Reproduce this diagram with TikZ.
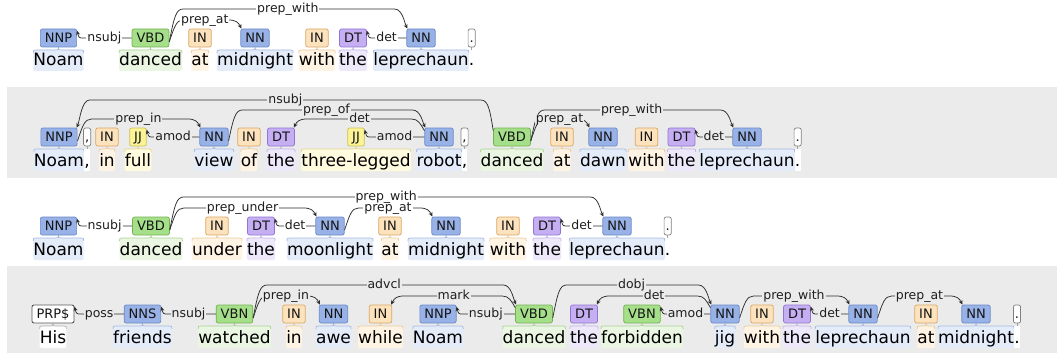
\documentclass[tikz,border=0pt]{standalone}
\usepackage{fontspec}
\newfontfamily\djv{DejaVu Sans}
\usetikzlibrary{calc,arrows.meta}
\pgfdeclarelayer{background}
\pgfdeclarelayer{foreground}
\pgfsetlayers{background,main,foreground}
\definecolor{rowgray}{HTML}{EBEBEB}
\definecolor{linec}{HTML}{2E2E2E}
\definecolor{nnfill}{HTML}{98B1E6}\definecolor{nndraw}{HTML}{6A8AC8}\definecolor{nnhl}{HTML}{E4ECFA}\definecolor{nnbr}{HTML}{A5B9E0}
\definecolor{vbfill}{HTML}{A6DF8A}\definecolor{vbdraw}{HTML}{72B250}\definecolor{vbhl}{HTML}{EAF6E2}\definecolor{vbbr}{HTML}{A9D394}
\definecolor{infill}{HTML}{FDE3BD}\definecolor{indraw}{HTML}{DBA664}\definecolor{inhl}{HTML}{FFF4E4}\definecolor{inbr}{HTML}{EBCB9C}
\definecolor{dtfill}{HTML}{C5AEF2}\definecolor{dtdraw}{HTML}{9076D4}\definecolor{dthl}{HTML}{EEE8FB}\definecolor{dtbr}{HTML}{C4B4E6}
\definecolor{jjfill}{HTML}{FBF496}\definecolor{jjdraw}{HTML}{CDBF55}\definecolor{jjhl}{HTML}{FFFBDF}\definecolor{jjbr}{HTML}{E2D68E}
\tikzset{
  wrd/.style={inner sep=0pt, anchor=base, font={\djv\fontsize{17}{20}\selectfont}, text=black},
  tagbox/.style={draw, rounded corners=2pt, line width=0.7pt, inner xsep=4.5pt, inner ysep=0pt,
    minimum height=18pt, text height=9.4pt, text depth=0pt, font={\djv\fontsize{13}{15}\selectfont}, text=black!92},
  cnn/.style={fill=nnfill, draw=nndraw}, cnn-hl/.style={fill=nnhl}, cnn-br/.style={draw=nnbr, line width=0.7pt},
  cvb/.style={fill=vbfill, draw=vbdraw}, cvb-hl/.style={fill=vbhl}, cvb-br/.style={draw=vbbr, line width=0.7pt},
  cin/.style={fill=infill, draw=indraw}, cin-hl/.style={fill=inhl}, cin-br/.style={draw=inbr, line width=0.7pt},
  cdt/.style={fill=dtfill, draw=dtdraw}, cdt-hl/.style={fill=dthl}, cdt-br/.style={draw=dtbr, line width=0.7pt},
  cjj/.style={fill=jjfill, draw=jjdraw}, cjj-hl/.style={fill=jjhl}, cjj-br/.style={draw=jjbr, line width=0.7pt},
  cprp/.style={fill=white, draw=black!65, line width=0.9pt}, cprp-hl/.style={fill=white}, cprp-br/.style={draw=black!30, line width=0.7pt},
  cpu/.style={fill=white, draw=black!50, inner xsep=1.5pt}, cpu-br/.style={draw=black!35, line width=0.6pt},
  arcline/.style={draw=linec, line width=0.75pt, -{Stealth[length=4.5pt,width=4pt]}},
  arclab/.style={font={\djv\fontsize{12.5}{14}\selectfont}, fill=\rowbg, inner xsep=1pt, inner ysep=0.3pt,
    text height=7pt, text depth=0.3pt, text=black!88},
}
\def\rowbg{white}
% token: name, x, tagY, baseline, word, tag, class
\newcommand\tok[7]{%
  \node[wrd] (#1w) at (#2,#4) {#5};
  \node[tagbox,#7] (#1) at (#2,#3) {#6};
  \coordinate (#1L) at (#1w.west |- 0,#3+12);
  \coordinate (#1R) at (#1w.east |- 0,#3+12);
  \coordinate (#1C) at (#1w.center |- 0,#3+12);
  \begin{pgfonlayer}{background}
    \fill[#7-hl, rounded corners=1.5pt] (#1L) rectangle (#1w.east |- 0,#4+5);
    \draw[#7-br] ($(#1L)+(0,3)$) .. controls (#1L) .. ($(#1L)+(3,0)$) -- ($(#1C)+(-3,0)$)
      .. controls (#1C) .. ($(#1C)+(0,-3)$) .. controls (#1C) .. ($(#1C)+(3,0)$)
      -- ($(#1R)+(-3,0)$) .. controls (#1R) .. ($(#1R)+(0,3)$);
  \end{pgfonlayer}}
% punctuation token: name, previous token, tagY, baseline, word, tag
\newcommand\ptok[6]{%
  \node[wrd, anchor=base west] (#1w) at (#2w.base east) {#5};
  \node[tagbox,cpu] (#1) at (#1w.center |- 0,#3) {#6};
  \begin{pgfonlayer}{background}
    \fill[white] (#1w.west |- 0,#3+12) rectangle (#1w.east |- 0,#4+5);
    \draw[cpu-br] (#1.south) -- ++(0,3);
  \end{pgfonlayer}}
% rightward arc: source, target, height, label
\newcommand\rarc[4]{%
  \coordinate (aS) at (#1.east |- 0,#3);
  \coordinate (aT) at (#2.north west |- 0,#3);
  \draw[arcline] ($(#1.east)+(0,4)$) .. controls ($(aS)+(5,7)$) and ($(aS)+(7,0)$) .. ($(aS)+(14,0)$)
    -- ($(aT)+(-12,0)$) .. controls ($(aT)+(-4,0)$) and ($(#2.north west)+(-2,-6)$) .. ($(#2.north west)+(1,0)$);
  \begin{pgfonlayer}{foreground}\node[arclab] at ($(aS)!0.5!(aT)$) {#4};\end{pgfonlayer}}
% leftward arc: source (right), target (left), height, label
\newcommand\larc[4]{%
  \coordinate (aS) at (#1.west |- 0,#3);
  \coordinate (aT) at (#2.north east |- 0,#3);
  \draw[arcline] ($(#1.north west)+(0,3)$) .. controls ($(aS)+(-4,5)$) and ($(aS)+(-6,0)$) .. ($(aS)+(-13,0)$)
    -- ($(aT)+(12,0)$) .. controls ($(aT)+(4,0)$) and ($(#2.north east)+(2,-6)$) .. ($(#2.north east)+(-1,0)$);
  \begin{pgfonlayer}{foreground}\node[arclab] at ($(aS)!0.5!(aT)$) {#4};\end{pgfonlayer}}
% adjacent leftward arc at tag level: source (right), target (left), label
\newcommand\zarc[3]{%
  \draw[arcline] (#1.west) -- ($(#2.east)+(7,0)$) .. controls ($(#2.east)+(2,0)$) .. ($(#2.north east)+(0,2)$);
  \begin{pgfonlayer}{foreground}\node[arclab] at ($(#1.west)!0.5!(#2.east)$) {#3};\end{pgfonlayer}}
\begin{document}
\begin{tikzpicture}[x=1pt,y=-1pt]
\useasboundingbox (0,0) rectangle (1057,353);
\begin{pgfonlayer}{background}
  \fill[white] (0,0) rectangle (1057,353);
  \fill[rowgray] (7,87) rectangle (1057,178);
  \fill[rowgray] (7,266) rectangle (1057,353);
\end{pgfonlayer}
% ---------------- row 1
\def\rowbg{white}
\tok{a1}{58.5}{38}{66}{Noam}{NNP}{cnn}
\tok{a2}{150.5}{38}{66}{danced}{VBD}{cvb}
\tok{a3}{200}{38}{66}{at}{IN}{cin}
\tok{a4}{255}{38}{66}{midnight}{NN}{cnn}
\tok{a5}{317}{38}{66}{with}{IN}{cin}
\tok{a6}{353}{38}{66}{the}{DT}{cdt}
\tok{a7}{421}{38}{66}{leprechaun}{NN}{cnn}
\ptok{a8}{a7}{38}{66}{.}{.}
\zarc{a2}{a1}{nsubj}
\rarc{a2}{a4}{20}{prep\_at}
\rarc{a2}{a7}{9}{prep\_with}
\zarc{a7}{a6}{det}
% ---------------- row 2
\def\rowbg{rowgray}
\tok{b1}{59}{137}{166}{Noam}{NNP}{cnn}
\ptok{b2}{b1}{137}{166}{,}{,}
\tok{b3}{107}{137}{166}{in}{IN}{cin}
\tok{b4}{138}{137}{166}{full}{JJ}{cjj}
\tok{b5}{214}{137}{166}{view}{NN}{cnn}
\tok{b6}{249}{137}{166}{of}{IN}{cin}
\tok{b7}{281}{137}{166}{the}{DT}{cdt}
\tok{b8}{356}{137}{166}{three-legged}{JJ}{cjj}
\tok{b9}{439}{137}{166}{robot}{NN}{cnn}
\ptok{b10}{b9}{137}{166}{,}{,}
\tok{b11}{512}{137}{166}{danced}{VBD}{cvb}
\tok{b12}{562}{137}{166}{at}{IN}{cin}
\tok{b13}{603}{137}{166}{dawn}{NN}{cnn}
\tok{b14}{646.5}{137}{166}{with}{IN}{cin}
\tok{b15}{681.5}{137}{166}{the}{DT}{cdt}
\tok{b16}{747}{137}{166}{leprechaun}{NN}{cnn}
\ptok{b17}{b16}{137}{166}{.}{.}
\larc{b11}{b1}{100}{nsubj}
\rarc{b1}{b5}{119}{prep\_in}
\zarc{b5}{b4}{amod}
\rarc{b5}{b9}{110}{prep\_of}
\larc{b9}{b7}{119}{det}
\zarc{b9}{b8}{amod}
\rarc{b11}{b13}{119}{prep\_at}
\rarc{b11}{b16}{110}{prep\_with}
\zarc{b16}{b15}{det}
% ---------------- row 3
\def\rowbg{white}
\tok{c1}{58.5}{226}{255}{Noam}{NNP}{cnn}
\tok{c2}{151}{226}{255}{danced}{VBD}{cvb}
\tok{c3}{217}{226}{255}{under}{IN}{cin}
\tok{c4}{261}{226}{255}{the}{DT}{cdt}
\tok{c5}{330}{226}{255}{moonlight}{NN}{cnn}
\tok{c6}{390}{226}{255}{at}{IN}{cin}
\tok{c7}{446}{226}{255}{midnight}{NN}{cnn}
\tok{c8}{508}{226}{255}{with}{IN}{cin}
\tok{c9}{547}{226}{255}{the}{DT}{cdt}
\tok{c10}{617}{226}{255}{leprechaun}{NN}{cnn}
\ptok{c11}{c10}{226}{255}{.}{.}
\zarc{c2}{c1}{nsubj}
\rarc{c2}{c5}{208}{prep\_under}
\zarc{c5}{c4}{det}
\rarc{c2}{c10}{197}{prep\_with}
\rarc{c5}{c7}{208}{prep\_at}
\zarc{c10}{c9}{det}
% ---------------- row 4
\def\rowbg{rowgray}
\tok{d1}{53}{314}{343}{His}{PRP\$}{cprp}
\tok{d2}{142.5}{314}{343}{friends}{NNS}{cnn}
\tok{d3}{234.5}{314}{343}{watched}{VBN}{cvb}
\tok{d4}{294}{314}{343}{in}{IN}{cin}
\tok{d5}{333.5}{314}{343}{awe}{NN}{cnn}
\tok{d6}{380.5}{314}{343}{while}{IN}{cin}
\tok{d7}{438}{314}{343}{Noam}{NNP}{cnn}
\tok{d8}{534}{314}{343}{danced}{VBD}{cvb}
\tok{d9}{584}{314}{343}{the}{DT}{cdt}
\tok{d10}{642}{314}{343}{forbidden}{VBN}{cvb}
\tok{d11}{725}{314}{343}{jig}{NN}{cnn}
\tok{d12}{762}{314}{343}{with}{IN}{cin}
\tok{d13}{797}{314}{343}{the}{DT}{cdt}
\tok{d14}{863}{314}{343}{leprechaun}{NN}{cnn}
\tok{d15}{926}{314}{343}{at}{IN}{cin}
\tok{d16}{976}{314}{343}{midnight}{NN}{cnn}
\ptok{d17}{d16}{314}{343}{.}{.}
\zarc{d2}{d1}{poss}
\zarc{d3}{d2}{nsubj}
\rarc{d3}{d5}{296}{prep\_in}
\rarc{d3}{d8}{285}{advcl}
\larc{d8}{d6}{296}{mark}
\zarc{d8}{d7}{nsubj}
\rarc{d8}{d11}{285}{dobj}
\larc{d11}{d9}{296}{det}
\zarc{d11}{d10}{amod}
\rarc{d11}{d14}{296}{prep\_with}
\zarc{d14}{d13}{det}
\rarc{d14}{d16}{296}{prep\_at}
\end{tikzpicture}
\end{document}
